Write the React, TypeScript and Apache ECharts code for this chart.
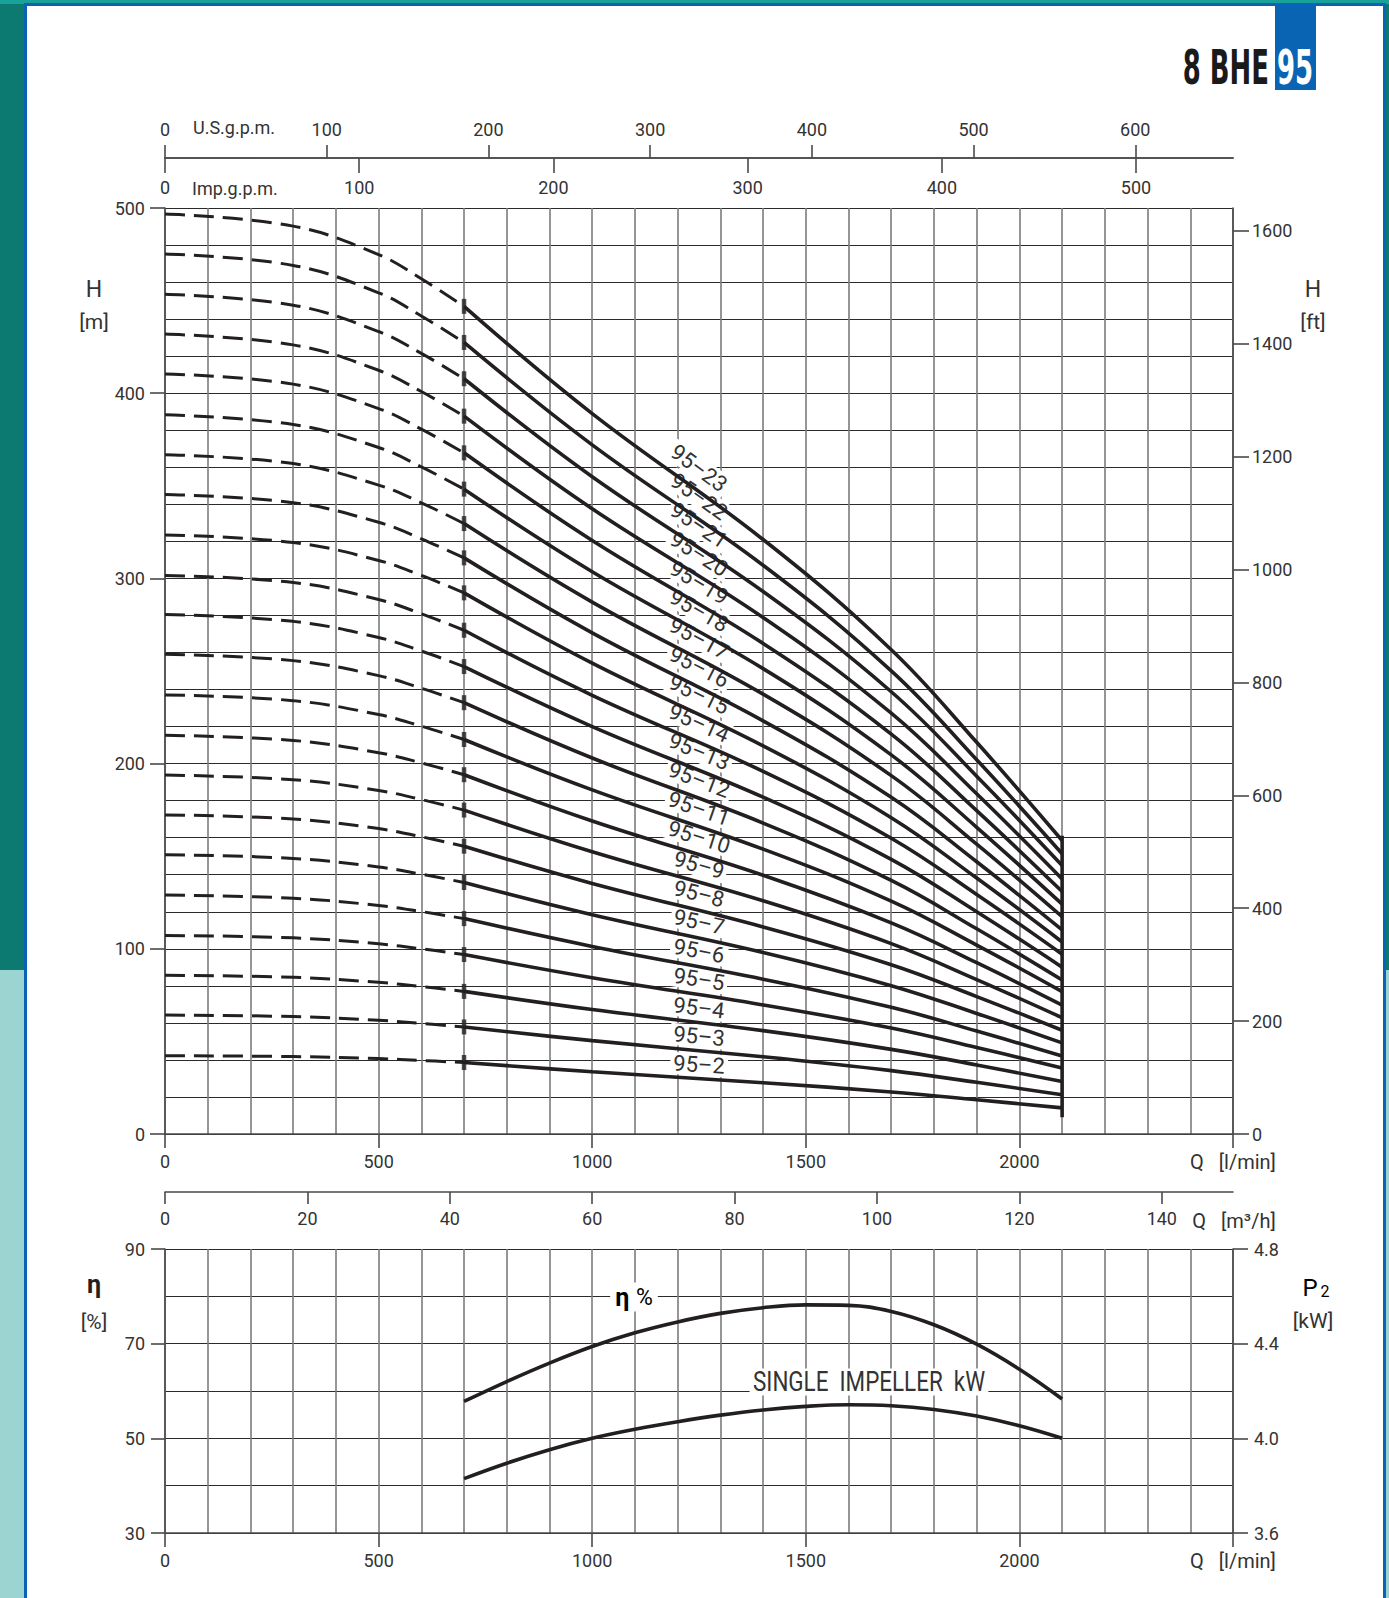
import React, { useEffect, useRef } from "react";
import * as echarts from "echarts";

// ---------- data ----------
const STAGES = [23, 22, 21, 20, 19, 18, 17, 16, 15, 14, 13, 12, 11, 10, 9, 8, 7, 6, 5, 4, 3, 2];

// dashed part (Q in l/min)
const Q_DASHED = [0, 300, 500, 600, 700];
const H_DASHED: number[][] = [
  [496.7, 490.2, 474.8, 461.8, 446.9],
  [475.2, 469.0, 454.2, 441.7, 427.4],
  [453.4, 447.5, 433.3, 421.5, 407.8],
  [431.9, 426.1, 412.4, 400.9, 387.6],
  [410.4, 404.9, 391.7, 380.6, 367.8],
  [388.3, 383.1, 370.7, 360.2, 348.2],
  [366.8, 362.0, 350.4, 340.8, 329.6],
  [345.3, 340.9, 330.3, 321.4, 311.1],
  [323.5, 319.4, 309.7, 301.6, 292.2],
  [301.6, 297.8, 288.6, 280.9, 272.0],
  [280.5, 276.8, 268.1, 260.8, 252.4],
  [259.0, 255.6, 247.5, 240.7, 232.9],
  [237.1, 234.0, 226.5, 220.2, 213.0],
  [215.3, 212.5, 205.9, 200.4, 194.0],
  [193.8, 191.3, 185.5, 180.6, 174.9],
  [172.3, 170.1, 164.9, 160.5, 155.4],
  [150.8, 148.8, 144.2, 140.3, 135.8],
  [129.0, 127.3, 123.4, 120.1, 116.3],
  [107.2, 105.9, 102.7, 100.0, 96.9],
  [85.7, 84.6, 81.9, 79.6, 77.0],
  [64.2, 63.4, 61.4, 59.7, 57.8],
  [42.3, 41.8, 40.7, 39.7, 38.6],
];

// solid part
const Q_SOLID = [700, 1000, 1400, 1700, 1900, 2100];
const H_SOLID: number[][] = [
  [446.9, 389.0, 321.0, 261.5, 211.5, 158.5],
  [427.4, 372.1, 307.1, 250.1, 202.1, 151.3],
  [407.8, 354.9, 292.9, 238.8, 193.2, 145.0],
  [387.6, 337.6, 278.9, 227.2, 183.7, 137.7],
  [367.8, 320.5, 264.9, 215.9, 174.6, 130.9],
  [348.2, 303.6, 251.3, 204.7, 165.6, 124.1],
  [329.6, 287.2, 237.5, 193.5, 156.5, 117.3],
  [311.1, 270.6, 223.1, 181.8, 147.0, 110.2],
  [292.2, 254.2, 209.6, 170.8, 138.2, 103.7],
  [272.0, 236.9, 195.8, 159.7, 129.3, 97.1],
  [252.4, 220.0, 181.9, 148.3, 120.0, 90.1],
  [232.9, 203.0, 167.9, 136.9, 110.8, 83.2],
  [213.0, 185.8, 153.8, 125.7, 102.0, 76.9],
  [194.0, 169.0, 139.7, 114.0, 92.5, 69.6],
  [174.9, 152.4, 125.9, 102.8, 83.4, 62.8],
  [155.4, 135.3, 111.8, 91.4, 74.2, 56.0],
  [135.8, 118.4, 98.0, 80.1, 65.1, 49.2],
  [116.3, 101.3, 83.6, 68.4, 55.6, 42.1],
  [96.9, 84.4, 69.7, 57.2, 46.7, 35.6],
  [77.0, 67.2, 55.8, 45.7, 37.3, 28.3],
  [57.8, 50.4, 41.7, 34.2, 27.9, 21.2],
  [38.6, 33.6, 27.7, 22.7, 18.5, 14.1],
];

const Q_END = 2100;
const H_END_BAR = [9, 161];
const Q_LABEL = 1250;

// efficiency / power
const Q_PERF = [700, 800, 900, 1000, 1100, 1200, 1300, 1400, 1500, 1600, 1700, 1800, 1900, 2000, 2100];
const ETA = [57.8, 62.0, 65.9, 69.4, 72.3, 74.6, 76.4, 77.6, 78.2, 78.1, 76.8, 74.0, 69.9, 64.6, 58.3];
const P2_KW = [3.83, 3.895, 3.952, 4.0, 4.038, 4.07, 4.098, 4.12, 4.135, 4.142, 4.138, 4.122, 4.094, 4.053, 4.0];

// axes
const Q_MAX = 2500;
const H_MAX = 500;
const M_TO_FT = 3.28084;
const LPM_TO_USGPM = 0.264172;
const LPM_TO_IMPGPM = 0.219969;
const LPM_TO_M3H = 0.06;

const FONT = "Roboto, 'Liberation Sans', sans-serif";
const INK = "#231f20";
const TXT = "#333";

function interp(xs: number[], ys: number[], x: number) {
  for (let i = 0; i < xs.length - 1; i++) {
    if (x >= xs[i] && x <= xs[i + 1]) {
      const t = (x - xs[i]) / (xs[i + 1] - xs[i]);
      return ys[i] + t * (ys[i + 1] - ys[i]);
    }
  }
  return ys[ys.length - 1];
}

export default function App() {
  const ref = useRef<HTMLDivElement>(null);

  useEffect(() => {
    const el = ref.current;
    if (!el) return;
    const chart = echarts.init(el, undefined, { renderer: "svg", width: 1389, height: 1598 });

    const axisText = { color: TXT, fontFamily: FONT, fontSize: 18 };
    const vGrid = { color: "#7c7c7c", width: 1.6 };
    const hGrid = { color: "#2a2a2a", width: 1 };
    const axisLine = { show: true, onZero: false, lineStyle: { color: "#4a4a4a", width: 1.6 } };
    const tick = (length: number, inside = false) => ({
      show: true,
      inside,
      length,
      lineStyle: { color: "#4a4a4a", width: 1.6 },
    });
    const plain = (v: number) => String(Math.round(v * 100) / 100);
    const qLabel = (v: number) => (v === Q_MAX ? "{u|Q   [l/min]}" : plain(v));
    const richU = { u: { fontFamily: FONT, fontSize: 20, color: TXT } };

    const series: any[] = [];
    STAGES.forEach((n, k) => {
      series.push({
        type: "line",
        name: `95-${n} dashed`,
        xAxisIndex: 0,
        yAxisIndex: 0,
        data: Q_DASHED.map((q, i) => [q, H_DASHED[k][i]]),
        smooth: 0.4,
        symbol: "none",
        lineStyle: { color: INK, width: 3, type: [20, 9] },
        z: 3,
        silent: true,
      });
      series.push({
        type: "line",
        name: `95-${n}`,
        xAxisIndex: 0,
        yAxisIndex: 0,
        data: Q_SOLID.map((q, i) => [q, H_SOLID[k][i]]),
        smooth: 0.4,
        symbol: "none",
        lineStyle: { color: INK, width: 3.6 },
        z: 3,
        silent: true,
      });
    });
    series.push({
      type: "scatter",
      xAxisIndex: 0,
      yAxisIndex: 0,
      data: STAGES.map((n, k) => [Q_DASHED[Q_DASHED.length - 1], H_DASHED[k][H_DASHED[k].length - 1]]),
      symbol: "rect",
      symbolSize: [4.5, 15],
      itemStyle: { color: INK },
      z: 4,
      silent: true,
    });
    series.push({
      type: "line",
      xAxisIndex: 0,
      yAxisIndex: 0,
      data: H_END_BAR.map((h) => [Q_END, h]),
      symbol: "none",
      lineStyle: { color: INK, width: 3.6 },
      z: 4,
      silent: true,
    });
    series.push({
      type: "line",
      name: "η %",
      xAxisIndex: 3,
      yAxisIndex: 2,
      data: Q_PERF.map((q, i) => [q, ETA[i]]),
      smooth: 0.4,
      symbol: "none",
      lineStyle: { color: INK, width: 3.6 },
      z: 3,
      silent: true,
    });
    series.push({
      type: "line",
      name: "P2 kW",
      xAxisIndex: 3,
      yAxisIndex: 3,
      data: Q_PERF.map((q, i) => [q, P2_KW[i]]),
      smooth: 0.4,
      symbol: "none",
      lineStyle: { color: INK, width: 3.6 },
      z: 3,
      silent: true,
    });

    const option: any = {
      animation: false,
      grid: [
        { left: 165, top: 208, width: 1068, height: 926, outerBoundsMode: "none", containLabel: false },
        { left: 165, top: 1249, width: 1068, height: 284, outerBoundsMode: "none", containLabel: false },
      ],
      xAxis: [
        {
          type: "value",
          gridIndex: 0,
          position: "bottom",
          min: 0,
          max: Q_MAX,
          interval: 500,
          axisLine,
          axisTick: tick(14),
          axisLabel: { ...axisText, margin: 18, formatter: qLabel, rich: richU },
          splitLine: { show: true, lineStyle: vGrid },
          minorTick: { show: false, splitNumber: 5 },
          minorSplitLine: { show: true, lineStyle: vGrid },
        },
        {
          type: "value",
          gridIndex: 0,
          position: "top",
          offset: 50,
          min: 0,
          max: Q_MAX * LPM_TO_USGPM,
          interval: 100,
          axisLine,
          axisTick: tick(13),
          axisLabel: { ...axisText, margin: 20, showMaxLabel: false, formatter: plain },
          splitLine: { show: false },
        },
        {
          type: "value",
          gridIndex: 0,
          position: "top",
          offset: 50,
          min: 0,
          max: Q_MAX * LPM_TO_IMPGPM,
          interval: 100,
          axisLine,
          axisTick: tick(15, true),
          axisLabel: { ...axisText, inside: true, margin: 20, showMaxLabel: false, formatter: plain },
          splitLine: { show: false },
        },
        {
          type: "value",
          gridIndex: 1,
          position: "bottom",
          min: 0,
          max: Q_MAX,
          interval: 500,
          axisLine,
          axisTick: tick(14),
          axisLabel: { ...axisText, margin: 18, formatter: qLabel, rich: richU },
          splitLine: { show: true, lineStyle: vGrid },
          minorTick: { show: false, splitNumber: 5 },
          minorSplitLine: { show: true, lineStyle: vGrid },
        },
        {
          type: "value",
          gridIndex: 1,
          position: "top",
          offset: 57,
          min: 0,
          max: Q_MAX * LPM_TO_M3H,
          interval: 20,
          axisLine,
          axisTick: tick(12, true),
          axisLabel: { ...axisText, inside: true, margin: 17, showMaxLabel: false, formatter: plain },
          splitLine: { show: false },
        },
      ],
      yAxis: [
        {
          type: "value",
          gridIndex: 0,
          position: "left",
          min: 0,
          max: H_MAX,
          interval: 100,
          axisLine,
          axisTick: tick(15),
          axisLabel: { ...axisText, margin: 20, formatter: plain },
          splitLine: { show: true, lineStyle: hGrid },
          minorTick: { show: false, splitNumber: 5 },
          minorSplitLine: { show: true, lineStyle: hGrid },
        },
        {
          type: "value",
          gridIndex: 0,
          position: "right",
          min: 0,
          max: H_MAX * M_TO_FT,
          interval: 200,
          axisLine,
          axisTick: tick(16),
          axisLabel: { ...axisText, margin: 19, showMaxLabel: false, formatter: plain },
          splitLine: { show: false },
        },
        {
          type: "value",
          gridIndex: 1,
          position: "left",
          min: 30,
          max: 90,
          interval: 20,
          axisLine,
          axisTick: tick(14),
          axisLabel: { ...axisText, margin: 20, formatter: plain },
          splitLine: { show: true, lineStyle: hGrid },
          minorTick: { show: false, splitNumber: 2 },
          minorSplitLine: { show: true, lineStyle: hGrid },
        },
        {
          type: "value",
          gridIndex: 1,
          position: "right",
          min: 3.6,
          max: 4.8,
          interval: 0.4,
          axisLine,
          axisTick: tick(15),
          axisLabel: { ...axisText, margin: 21, formatter: (v: number) => v.toFixed(1) },
          splitLine: { show: false },
        },
      ],
      series,
    };

    chart.setOption(option);

    // ---- annotations (positions derived from the chart's scales) ----
    const toPx = (q: number, h: number) =>
      chart.convertToPixel({ xAxisIndex: 0, yAxisIndex: 0 } as any, [q, h]) as number[];

    const curveLabels = STAGES.map((n, k) => {
      const h = interp(Q_SOLID, H_SOLID[k], Q_LABEL);
      const p = toPx(Q_LABEL, h);
      const a1 = toPx(Q_LABEL - 100, interp(Q_SOLID, H_SOLID[k], Q_LABEL - 100));
      const a2 = toPx(Q_LABEL + 100, interp(Q_SOLID, H_SOLID[k], Q_LABEL + 100));
      const ang = Math.atan2(a2[1] - a1[1], a2[0] - a1[0]);
      const lift = 13 + 15 * Math.tan(ang);
      return {
        type: "text",
        x: p[0],
        y: p[1] - lift,
        rotation: -ang,
        z: 1,
        silent: true,
        style: {
          text: `95–${n}`,
          font: `22px ${FONT}`,
          fill: TXT,
          align: "center",
          verticalAlign: "middle",
          backgroundColor: "#fff",
          padding: [0, 3],
        },
      };
    });

    const m3hEnd = chart.convertToPixel({ xAxisIndex: 4 } as any, Q_MAX * LPM_TO_M3H) as number;

    const txt = (text: string, x: number, y: number, size: number, align = "center", extra: any = {}) => ({
      type: "text",
      x,
      y,
      z: 5,
      silent: true,
      style: {
        text,
        font: `${size}px ${FONT}`,
        fill: TXT,
        align,
        verticalAlign: "middle",
        ...extra,
      },
    });

    const graphics: any[] = [
      ...curveLabels,
      txt("U.S.g.p.m.", 193, 127, 18, "left"),
      txt("Imp.g.p.m.", 192, 188, 18, "left"),
      txt("Q   [m³/h]", m3hEnd + 1, 1221, 20, "center"),
      txt("H", 94, 289, 23),
      txt("[m]", 94, 322, 21),
      txt("H", 1313, 289, 23),
      txt("[ft]", 1313, 322, 21),
      {
        type: "text",
        x: 94,
        y: 1284,
        z: 5,
        silent: true,
        style: { text: "η", font: `bold 25px ${FONT}`, fill: INK, align: "center", verticalAlign: "middle" },
      },
      txt("[%]", 94, 1322, 21),
      {
        type: "text",
        x: 1316,
        y: 1288,
        z: 5,
        silent: true,
        style: {
          text: "{p|P}{s|2}",
          align: "center",
          verticalAlign: "middle",
          rich: {
            p: { fontFamily: FONT, fontSize: 24, color: TXT },
            s: { fontFamily: FONT, fontSize: 16, color: TXT, padding: [6, 0, 0, 3] },
          },
        },
      },
      txt("[kW]", 1313, 1321, 21),
      {
        type: "text",
        x: 634,
        y: 1297,
        z: 1,
        silent: true,
        style: {
          text: "{b|η}  {n|%}",
          align: "center",
          verticalAlign: "middle",
          backgroundColor: "#fff",
          padding: [2, 5],
          rich: {
            b: { fontFamily: FONT, fontSize: 25, fontWeight: "bold", color: INK },
            n: { fontFamily: FONT, fontSize: 23, color: TXT },
          },
        },
      },
      {
        type: "text",
        x: 869,
        y: 1382,
        z: 1,
        scaleX: 0.83,
        silent: true,
        style: {
          text: "SINGLE  IMPELLER  kW",
          font: `27px ${FONT}`,
          fill: TXT,
          align: "center",
          verticalAlign: "middle",
          backgroundColor: "#fff",
          padding: [0, 4],
        },
      },
      // logo
      {
        type: "text",
        x: 1269,
        y: 67,
        z: 5,
        scaleX: 0.54,
        silent: true,
        style: {
          text: "8 BHE",
          font: `bold 48px 'DejaVu Sans', sans-serif`,
          fill: "#1a1a1a",
          align: "right",
          verticalAlign: "middle",
        },
      },
      {
        type: "rect",
        z: 5,
        silent: true,
        shape: { x: 1275, y: 5, width: 41, height: 85 },
        style: { fill: "#0a64b4" },
      },
      {
        type: "text",
        x: 1295,
        y: 67,
        z: 6,
        scaleX: 0.54,
        silent: true,
        style: {
          text: "95",
          font: `bold 48px 'DejaVu Sans', sans-serif`,
          fill: "#ffffff",
          align: "center",
          verticalAlign: "middle",
        },
      },
    ];

    chart.setOption({ graphic: { elements: graphics } });

    return () => {
      chart.dispose();
    };
  }, []);

  return (
    <div
      style={{
        position: "absolute",
        left: 0,
        top: 0,
        width: 1389,
        height: 1598,
        overflow: "hidden",
        background: "#0c7a70",
      }}
    >
      <div style={{ position: "absolute", left: 0, top: 970, width: 1389, height: 628, background: "#9bd4d1" }} />
      <div style={{ position: "absolute", left: 0, top: 0, width: 1389, height: 4, background: "#19a29a" }} />
      <div style={{ position: "absolute", left: 24, top: 3, width: 1362, height: 1595, background: "#0a63b4" }} />
      <div style={{ position: "absolute", left: 27, top: 6, width: 1356, height: 1592, background: "#ffffff" }} />
      <div ref={ref} style={{ position: "absolute", left: 0, top: 0, width: 1389, height: 1598 }} />
    </div>
  );
}
